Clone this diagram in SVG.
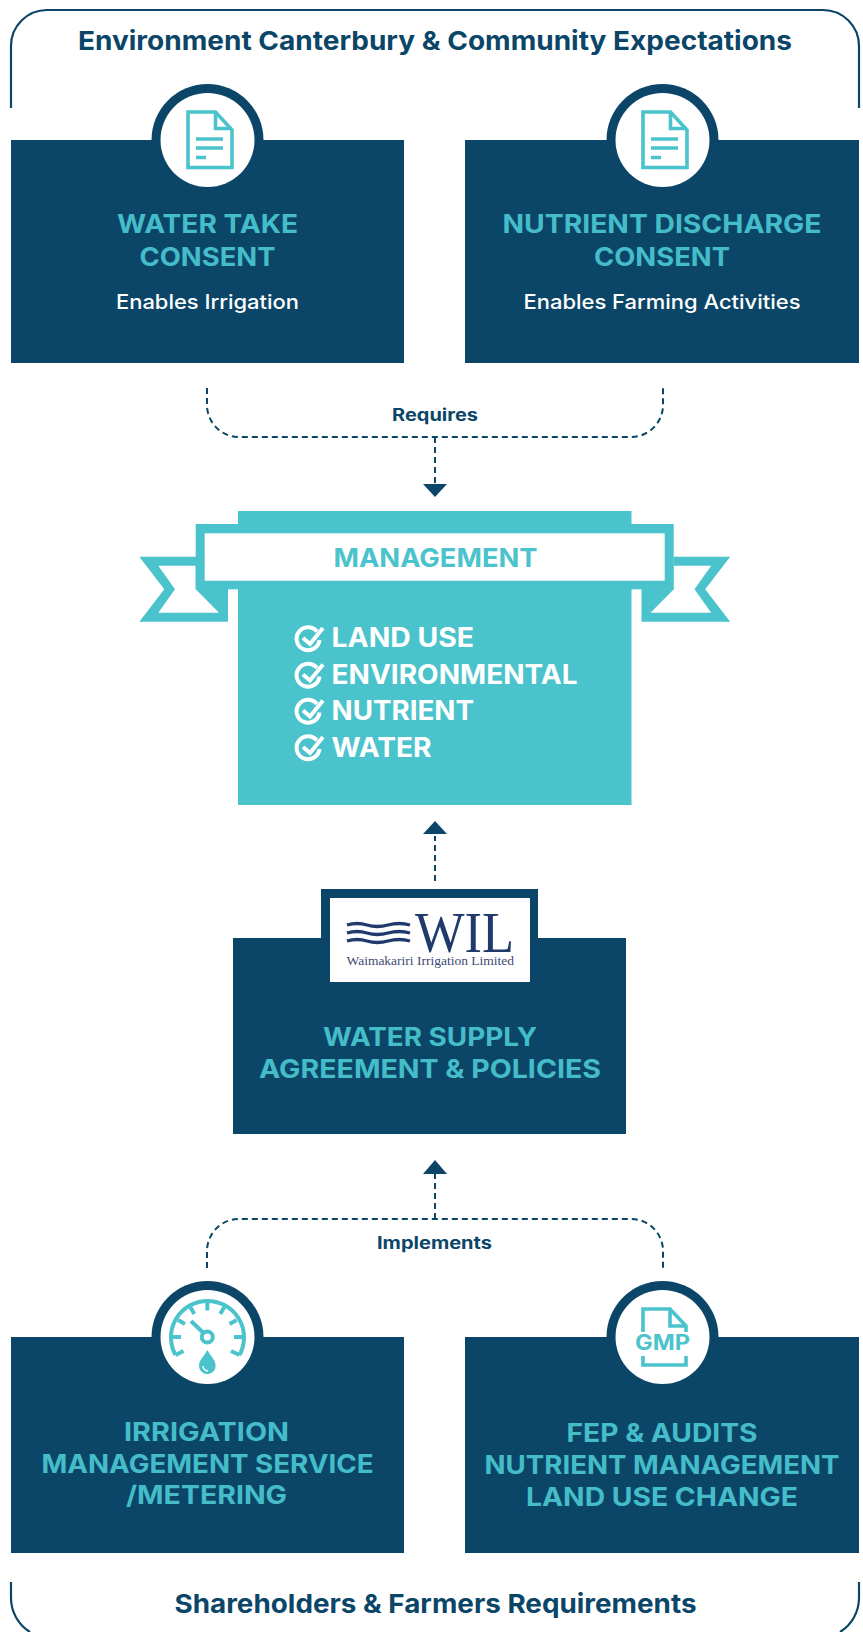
<svg xmlns="http://www.w3.org/2000/svg" width="863" height="1632" viewBox="0 0 863 1632">
<style>
text{font-family:"Inter","Liberation Sans",sans-serif}
.navy{fill:#0b4668}.teal{fill:#4bc3cc}.white{fill:#fff}
.h{font-size:25.500px;font-weight:700;fill:#45bdc8}
.sub{font-size:20px;font-weight:500;fill:#fff}
.frame{font-size:26px;font-weight:700;fill:#0b4668}
.lab{font-size:17px;font-weight:700;fill:#0b4668}
.chk{font-size:27px;font-weight:700;fill:#fff}
.fr{fill:none;stroke:#0b4668;stroke-width:2.2}
.dash{fill:none;stroke:#0b4668;stroke-width:2;stroke-dasharray:6 4}
.ic{fill:none;stroke:#4bc3cc;stroke-width:3.600}
.gg{fill:none;stroke:#4bc3cc;stroke-width:4}
.ck{fill:none;stroke:#fff;stroke-width:4}
.wave{fill:none;stroke:#1f3a6b;stroke-width:3.300}
</style>
<defs>
<g id="doc">
<path class="ic" d="M-20 -28H7.500L24 -10V27.500H-20Z"/>
<path class="ic" d="M7.500 -28V-11.500H24"/>
<path class="ic" d="M-12 -1H15M-12 8H15M-12 17.500H-2"/>
</g>
<g id="check">
<path class="ck" d="M9 -7.500A11.500 11.500 0 1 0 11.500 1"/>
<path class="ck" d="M-5 -1L2 5L15 -11"/>
</g>
</defs>

<g id="frame-top">
<path class="fr" d="M11 108V46A36 36 0 0 1 47 10H823A36 36 0 0 1 859 46V108"/>
<text class="frame" x="435" y="50" text-anchor="middle" textLength="714" lengthAdjust="spacingAndGlyphs">Environment Canterbury &amp; Community Expectations</text>
</g>

<g id="connectors">
<path class="dash" d="M207 388V405A32 32 0 0 0 239 437H631A32 32 0 0 0 663 405V388"/>
<path class="dash" d="M435 437V484"/>
<polygon class="navy" points="423,484 447,484 435,497"/>
<path class="dash" d="M435 881V836"/>
<polygon class="navy" points="423,834 447,834 435,821"/>
<path class="dash" d="M207 1268V1251A32 32 0 0 1 239 1219H631A32 32 0 0 1 663 1251V1268"/>
<path class="dash" d="M435 1219V1174"/>
<polygon class="navy" points="423,1174 447,1174 435,1160"/>
<text class="lab" x="435" y="421" text-anchor="middle" textLength="86" lengthAdjust="spacingAndGlyphs">Requires</text>
<text class="lab" x="434.500" y="1248.500" text-anchor="middle" textLength="115" lengthAdjust="spacingAndGlyphs">Implements</text>
</g>

<g id="node-water-take">
<rect class="navy" x="11" y="140" width="393" height="223"/>
<circle class="navy" cx="207.500" cy="140" r="56"/>
<circle class="white" cx="207.500" cy="140" r="47"/>
<use href="#doc" x="208" y="140"/>
<text class="h" x="207.500" y="233" text-anchor="middle" textLength="181" lengthAdjust="spacingAndGlyphs">WATER TAKE</text>
<text class="h" x="207.500" y="265.500" text-anchor="middle" textLength="136" lengthAdjust="spacingAndGlyphs">CONSENT</text>
<text class="sub" x="207.500" y="309" text-anchor="middle" textLength="183" lengthAdjust="spacingAndGlyphs">Enables Irrigation</text>
</g>

<g id="node-nutrient-discharge">
<rect class="navy" x="465" y="140" width="394" height="223"/>
<circle class="navy" cx="662.500" cy="140" r="56"/>
<circle class="white" cx="662.500" cy="140" r="47"/>
<use href="#doc" x="663" y="140"/>
<text class="h" x="662" y="233" text-anchor="middle" textLength="319" lengthAdjust="spacingAndGlyphs">NUTRIENT DISCHARGE</text>
<text class="h" x="662" y="265.500" text-anchor="middle" textLength="136" lengthAdjust="spacingAndGlyphs">CONSENT</text>
<text class="sub" x="662" y="309" text-anchor="middle" textLength="277" lengthAdjust="spacingAndGlyphs">Enables Farming Activities</text>
</g>

<g id="node-management">
<polygon class="teal" points="228,589 228,621.700 139.300,621.700 164.300,589.300 139.300,556.700 196,556.700 196,589"/>
<polygon class="white" points="158.300,565.700 175,589.300 158.300,612.700 219,612.700 195.700,589.300 195.700,565.700"/>
<polygon class="teal" points="641.500,589 641.500,621.700 730.200,621.700 705.200,589.300 730.200,556.700 673.500,556.700 673.500,589"/>
<polygon class="white" points="711.200,565.700 694.500,589.300 711.200,612.700 650.500,612.700 673.800,589.300 673.800,565.700"/>
<rect class="teal" x="238" y="511" width="393.500" height="294"/>
<rect class="teal" x="195.700" y="524" width="478" height="65.300"/>
<rect class="white" x="204.700" y="533.300" width="460" height="47.400"/>
<text class="h" x="435.500" y="567" text-anchor="middle" textLength="204" lengthAdjust="spacingAndGlyphs" style="fill:#4bc3cc">MANAGEMENT</text>
<use href="#check" x="308" y="639"/>
<use href="#check" x="308" y="675.500"/>
<use href="#check" x="308" y="711.500"/>
<use href="#check" x="308" y="748"/>
<text class="chk" x="331.500" y="647" textLength="142.500" lengthAdjust="spacingAndGlyphs">LAND USE</text>
<text class="chk" x="331.500" y="683.500" textLength="246" lengthAdjust="spacingAndGlyphs">ENVIRONMENTAL</text>
<text class="chk" x="331.500" y="720" textLength="142.500" lengthAdjust="spacingAndGlyphs">NUTRIENT</text>
<text class="chk" x="331.500" y="757" textLength="100" lengthAdjust="spacingAndGlyphs">WATER</text>
</g>

<g id="node-water-supply">
<rect class="navy" x="233" y="938" width="393" height="196"/>
<rect class="navy" x="321" y="889" width="217" height="60"/>
<rect class="white" x="330" y="898" width="200" height="84"/>
<path class="wave" d="M347 925Q357 922 367 925T388 925T410 925"/>
<path class="wave" d="M347 933Q357 930 367 933T388 933T410 933"/>
<path class="wave" d="M347 941Q357 938 367 941T388 941T410 941"/>
<text x="415" y="952" textLength="99" lengthAdjust="spacingAndGlyphs" style="font-family:'Liberation Serif',serif;font-size:58px;fill:#1f3a6b">WIL</text>
<text x="346.500" y="965" textLength="167.500" lengthAdjust="spacingAndGlyphs" style="font-family:'Liberation Serif',serif;font-size:13px;fill:#3d4a72">Waimakariri Irrigation Limited</text>
<text class="h" x="430" y="1045.500" text-anchor="middle" textLength="214" lengthAdjust="spacingAndGlyphs">WATER SUPPLY</text>
<text class="h" x="430" y="1078" text-anchor="middle" textLength="342" lengthAdjust="spacingAndGlyphs">AGREEMENT &amp; POLICIES</text>
</g>

<g id="node-irrigation">
<rect class="navy" x="11" y="1337" width="393" height="216"/>
<circle class="navy" cx="207.500" cy="1337" r="56"/>
<circle class="white" cx="207.500" cy="1337" r="47"/>
<path class="gg" d="M175.500 1355A36.500 36.500 0 1 1 239.500 1355"/>
<path class="gg" d="M207.300 1303V1310.500M190.300 1307L194.300 1314M224.300 1307L220.300 1314M178 1320L185 1324M236.600 1320L229.600 1324M173 1337H181M234 1337H242M175.500 1355L183.500 1351M239.500 1355L231 1351"/>
<circle class="gg" cx="207.300" cy="1337" r="5.500"/>
<path class="gg" d="M203.500 1333L191 1321"/>
<path class="teal" d="M207.300 1350C203 1358 199 1360 199 1366A8.300 8.300 0 0 0 215.600 1366C215.600 1360 212 1358 207.300 1350Z"/>
<path fill="none" stroke="#fff" stroke-width="1.500" d="M203 1366A5 5 0 0 0 208 1371"/>
<text class="h" x="206.500" y="1440.500" text-anchor="middle" textLength="165" lengthAdjust="spacingAndGlyphs">IRRIGATION</text>
<text class="h" x="207.500" y="1472.500" text-anchor="middle" textLength="332" lengthAdjust="spacingAndGlyphs">MANAGEMENT SERVICE</text>
<text class="h" x="206.500" y="1504" text-anchor="middle" textLength="161" lengthAdjust="spacingAndGlyphs">/METERING</text>
</g>

<g id="node-fep">
<rect class="navy" x="465" y="1337" width="394" height="216"/>
<circle class="navy" cx="662.500" cy="1337" r="56"/>
<circle class="white" cx="662.500" cy="1337" r="47"/>
<path class="ic" d="M643 1332V1309H670L686 1326V1332M670 1309V1326H686"/>
<path class="ic" d="M643 1356V1365H686V1356"/>
<text x="662.500" y="1350" text-anchor="middle" textLength="55" lengthAdjust="spacingAndGlyphs" style="font-size:21px;font-weight:700;fill:#4bc3cc">GMP</text>
<text class="h" x="662" y="1442" text-anchor="middle" textLength="191" lengthAdjust="spacingAndGlyphs">FEP &amp; AUDITS</text>
<text class="h" x="662" y="1474" text-anchor="middle" textLength="355" lengthAdjust="spacingAndGlyphs">NUTRIENT MANAGEMENT</text>
<text class="h" x="662" y="1506" text-anchor="middle" textLength="272" lengthAdjust="spacingAndGlyphs">LAND USE CHANGE</text>
</g>

<g id="frame-bottom">
<path class="fr" d="M11 1582V1598A40 40 0 0 0 30 1632M859 1582V1598A40 40 0 0 1 840 1632"/>
<text class="frame" x="435.500" y="1613" text-anchor="middle" textLength="522" lengthAdjust="spacingAndGlyphs">Shareholders &amp; Farmers Requirements</text>
</g>
</svg>
